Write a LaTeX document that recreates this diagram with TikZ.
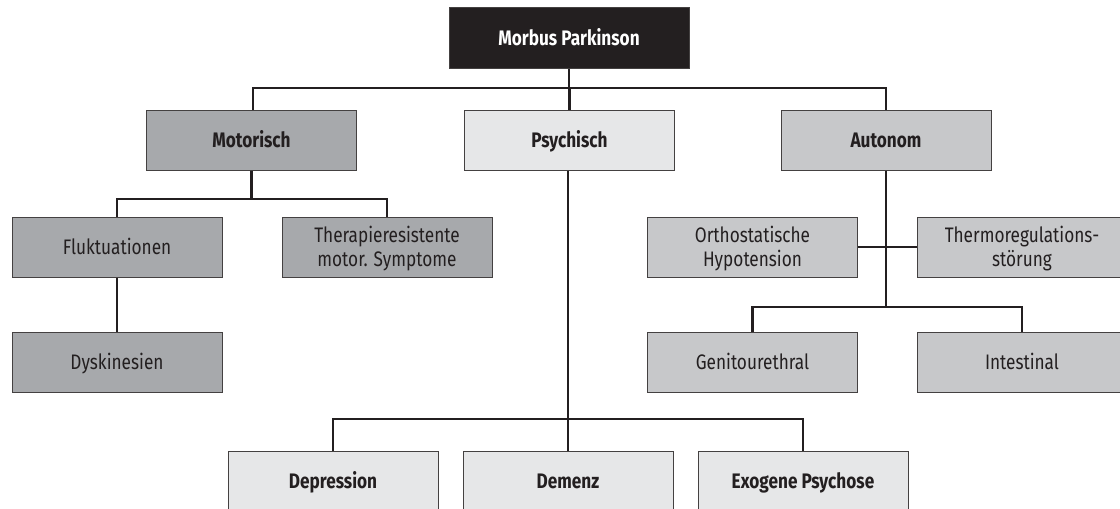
\documentclass[tikz,border=0pt]{standalone}
\usepackage{fontspec}
\setmainfont{Fira Sans}[FakeStretch=0.82]
\definecolor{topc}{HTML}{231F20}
\definecolor{darkg}{HTML}{A7A9AC}
\definecolor{midg}{HTML}{C7C8CA}
\definecolor{lightg}{HTML}{E6E7E8}
\definecolor{linec}{HTML}{231F20}
\tikzset{
  box/.style={draw=linec!85, line width=1pt, minimum width=210pt, minimum height=60pt, inner sep=0pt, align=center, font=\fontsize{21}{24}\selectfont, text=linec, text height=15pt, text depth=0pt},
  twoline/.style={text height=39pt, text depth=0pt},
  bbox/.style={box, font=\fontsize{21}{24}\selectfont\bfseries},
  conn/.style={draw=linec, line width=2.6pt}
}
\begin{document}
\begin{tikzpicture}[x=1pt,y=-1pt]
\useasboundingbox (0,0) rectangle (1120,509);
\begin{scope}
\clip (0,0) rectangle (1120,509);
\coordinate (h1l) at (253,88);
\coordinate (h1r) at (886,88);
\node[bbox, fill=topc, text=white, minimum width=240pt, minimum height=61pt] (mp) at (569,37.5) {Morbus Parkinson};
\node[bbox, fill=darkg] (mot) at (251.5,140) {Motorisch};
\node[bbox, fill=lightg] (psy) at (569.5,140) {Psychisch};
\node[bbox, fill=midg] (aut) at (886,140) {Autonom};
\node[box, fill=darkg] (flu) at (117,247) {Fluktuationen};
\node[box, twoline, fill=darkg] (the) at (387,247) {Therapieresistente\\motor. Symptome};
\node[box, fill=darkg] (dys) at (117,362) {Dyskinesien};
\node[box, twoline, fill=midg] (ort) at (752.5,247) {Orthostatische\\Hypotension};
\node[box, twoline, fill=midg] (thr) at (1022,247) {Thermoregulations-\\störung};
\node[box, fill=midg] (gen) at (752.5,362) {Genitourethral};
\node[box, fill=midg] (int) at (1022,362) {Intestinal};
\node[bbox, fill=lightg] (dep) at (333,481) {Depression};
\node[bbox, fill=lightg] (dem) at (568,481) {Demenz};
\node[bbox, fill=lightg] (exo) at (803,481) {Exogene Psychose};
% level 1
\draw[conn] (mp.south) -- (mp.south |- h1l);
\draw[conn] (mot.north -| h1l) -- (h1l) -- (h1r) -- (aut.north -| h1r);
\draw[conn] (psy.north) -- (psy.north |- h1l);
% motorisch
\coordinate (h2) at (0,199);
\draw[conn] (mot.south) -- (mot.south |- h2);
\draw[conn] (flu.north) |- (the.north |- h2) -- (the.north);
\draw[conn] (flu.south) -- (dys.north);
% autonom
\coordinate (a1) at (886,247);
\coordinate (a2) at (886,307);
\draw[conn] (aut.south -| a1) -- (a2);
\draw[conn] (ort.east) -- (a1) -- (thr.west);
\draw[conn] (gen.north) |- (a2) -| (int.north);
% psychisch
\coordinate (p1) at (568,419);
\draw[conn] (psy.south -| p1) -- (dem.north -| p1);
\draw[conn] (dep.north) |- (p1) -| (exo.north);
\end{scope}
\end{tikzpicture}
\end{document}
